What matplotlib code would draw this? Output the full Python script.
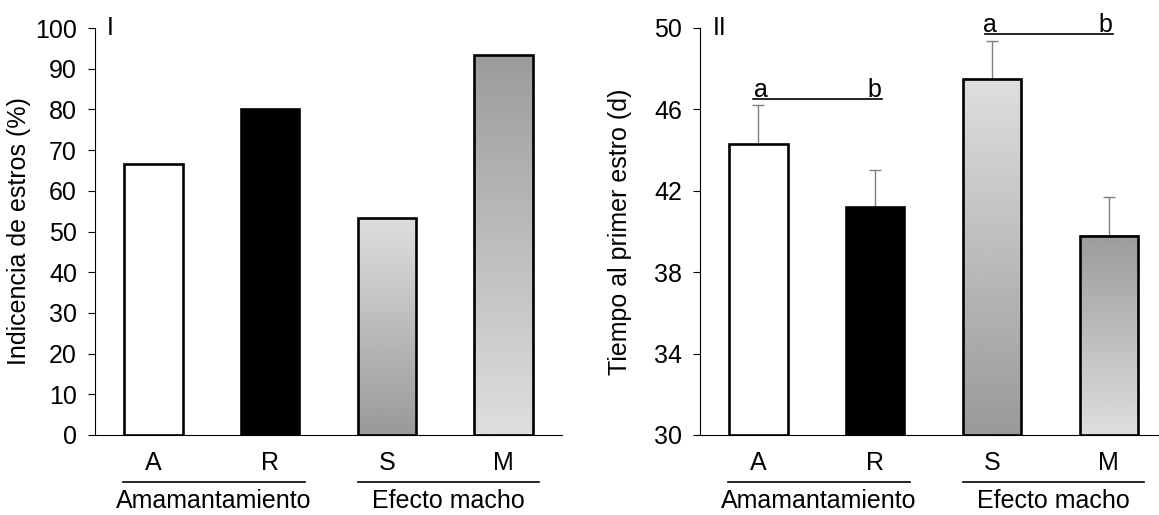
import numpy as np
import matplotlib
matplotlib.use("Agg")
from matplotlib import pyplot as plt

plt.rcParams['font.family'] = ['Liberation Sans', 'DejaVu Sans']

categories = ['A', 'R', 'S', 'M']
groups = ['Amamantamiento', 'Efecto macho']

# panel I: incidencia de estros (%)
incidence = [66.7, 80.0, 53.3, 93.3]

# panel II: tiempo al primer estro (d), media y error
time_mean = [44.3, 41.2, 47.5, 39.8]
time_err = [1.9, 1.8, 1.85, 1.9]

# fill of each bar: (top gray, bottom gray)
fills = [(1.0, 1.0), (0.0, 0.0), (0.87, 0.6), (0.61, 0.87)]

FS = 18
BAR_W = 0.5


def draw_bars(ax, values, base):
    x = np.arange(len(values))
    for i, v in enumerate(values):
        top, bot = fills[i]
        grad = np.linspace(top, bot, 256).reshape(-1, 1)
        ax.imshow(grad, extent=[x[i] - BAR_W / 2, x[i] + BAR_W / 2, base, v],
                  aspect='auto', cmap='gray', vmin=0, vmax=1, origin='upper',
                  zorder=2, interpolation='bilinear')
    ax.bar(x, np.array(values) - base, bottom=base, width=BAR_W,
           facecolor='none', edgecolor='black', linewidth=1.9, zorder=3)


def style_axes(ax, ylim, yticks, ylabel, xmax, label_x):
    ax.set_xlim(-0.5, xmax)
    ax.set_ylim(*ylim)
    ax.set_yticks(yticks)
    ax.set_xticks([])
    for s in ['top', 'right']:
        ax.spines[s].set_visible(False)
    for s in ['left', 'bottom']:
        ax.spines[s].set_linewidth(0.8)
    ax.tick_params(axis='y', direction='out', length=5, width=0.8, pad=8,
                   labelsize=FS)
    ax.set_ylabel(ylabel, fontsize=FS)
    ax.yaxis.set_label_coords(label_x, 0.5)

    trans = ax.get_xaxis_transform()
    for i, c in enumerate(categories):
        ax.text(i, -0.068, c, transform=trans, ha='center', va='center',
                fontsize=FS)
    for g, (x0, x1) in zip(groups, [(-0.26, 1.30), (1.75, 3.30)]):
        ax.plot([x0, x1], [-0.115, -0.115], transform=trans, color='black',
                lw=1.2, clip_on=False)
        ax.text((x0 + x1) / 2, -0.162, g, transform=trans, ha='center',
                va='center', fontsize=FS)


fig = plt.figure(figsize=(11.59, 5.15), dpi=100)

ax1 = fig.add_axes([95 / 1159, 1 - 435 / 515, 467 / 1159, 407 / 515])
draw_bars(ax1, incidence, 0)
style_axes(ax1, (0, 100), range(0, 101, 10), 'Indicencia de estros (%)', 3.5,
           -0.137)
ax1.text(0.026, 1.0, 'I', transform=ax1.transAxes, ha='left', va='center',
         fontsize=FS)

ax2 = fig.add_axes([700 / 1159, 1 - 435 / 515, 459 / 1159, 407 / 515])
draw_bars(ax2, time_mean, 30)
ax2.errorbar(np.arange(4), time_mean, yerr=[np.zeros(4), time_err], fmt='none',
             ecolor='#808080', elinewidth=1, capsize=4, capthick=1, zorder=1)
style_axes(ax2, (30, 50), range(30, 51, 4), 'Tiempo al primer estro (d)', 3.43,
           -0.148)
ax2.text(0.028, 1.0, 'II', transform=ax2.transAxes, ha='left', va='center',
         fontsize=FS)

# significance letters
sig = [(-0.05, 1.06, 46.5, 0.02, 0.99), (1.94, 3.04, 49.7, 1.98, 2.97)]
for x0, x1, y, xa, xb in sig:
    ax2.plot([x0, x1], [y, y], color='black', lw=1.2, clip_on=False, zorder=4)
    ax2.text(xa, y + 0.12, 'a', ha='center', va='baseline', fontsize=FS,
             clip_on=False)
    ax2.text(xb, y + 0.12, 'b', ha='center', va='baseline', fontsize=FS,
             clip_on=False)

fig.savefig('out.png', dpi=100)
